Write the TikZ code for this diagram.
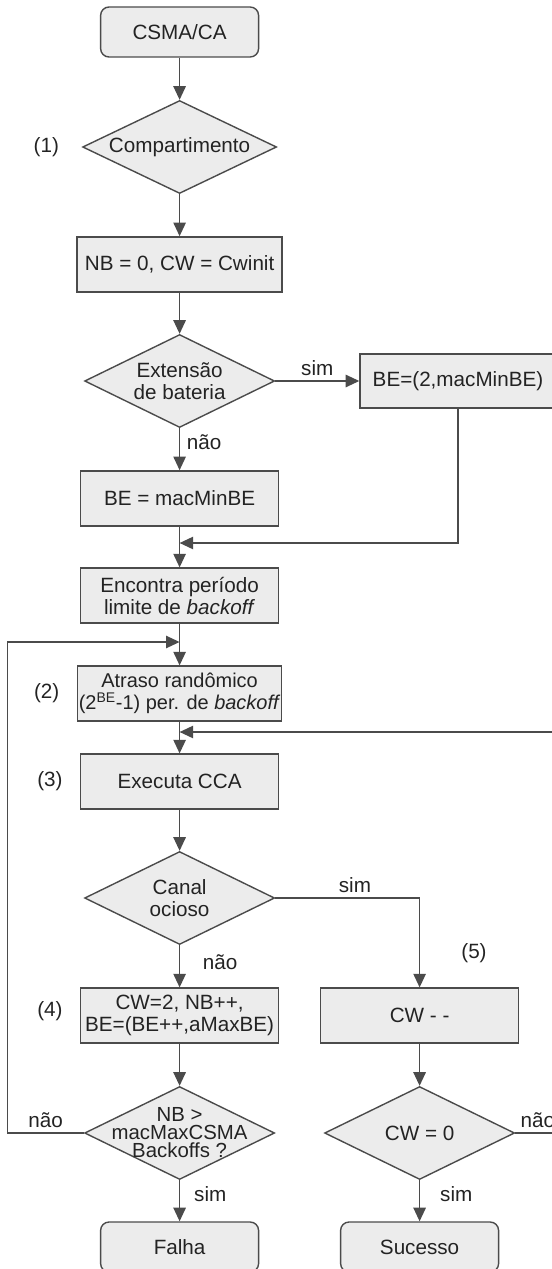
\documentclass[tikz,border=0pt]{standalone}
\usepackage{fontspec}
\setmainfont{Liberation Sans}
\definecolor{boxgray}{RGB}{236,236,236}
\definecolor{edgegray}{RGB}{75,75,75}
\definecolor{inkgray}{RGB}{35,35,35}
\usetikzlibrary{arrows.meta, positioning, calc, shapes.geometric}
\newcommand{\fs}{\fontsize{14.7}{15.8}\selectfont}
\newcommand{\fssmall}{\fontsize{14.2}{15.5}\selectfont}
\newcommand{\fstight}{\fontsize{14.5}{12.8}\selectfont}

\begin{document}
\begin{tikzpicture}[
  box/.style={draw=edgegray, fill=boxgray, line width=1pt, minimum width=4.95cm, minimum height=1.375cm, align=center, font=\fs, text=inkgray, inner sep=1pt},
  term/.style={box, rounded corners=6pt, minimum width=3.95cm, minimum height=1.25cm},
  dec/.style={diamond, draw=edgegray, fill=boxgray, line width=1pt, minimum width=4.75cm, minimum height=2.325cm, inner sep=0pt},
  dtxt/.style={font=\fs, text=inkgray, align=center, inner sep=0pt},
  arr/.style={-{Triangle[length=0.34cm, width=0.31cm]}, line width=1pt, edgegray},
  lbl/.style={font=\fs, text=inkgray}
]
  \useasboundingbox (0,0) rectangle (13.8,-31.725);

  % ── Main column ──
  \node[term] (start) at (4.49,-0.8) {CSMA/CA};
  \node[dec, minimum width=4.85cm, label={[dtxt]center:Compartimento}] (comp) at (4.49,-3.675) {};
  \node[box, minimum width=5.125cm] (init) at (4.49,-6.61) {NB = 0, CW = Cwinit};
  \node[dec, label={[dtxt]center:{Extensão\\de bateria}}] (bat) at (4.49,-9.525) {};
  \node[box] (bemin) at (4.49,-12.46) {BE = macMinBE};
  \node[box] (limit) at (4.49,-14.89) {Encontra período\\limite de \textit{backoff}};
  \node[box, font=\fssmall] (delay) at (4.49,-17.34) {Atraso randômico\\(2\textsuperscript{BE}-1) per. de \textit{backoff}};
  \node[box] (cca) at (4.49,-19.54) {Executa CCA};
  \node[dec, label={[dtxt]center:{Canal\\ocioso}}] (idle) at (4.49,-22.45) {};
  \node[box] (busy) at (4.49,-25.39) {CW=2, NB++,\\BE=(BE++,aMaxBE)};
  \node[dec, label={[dtxt, font=\fstight]center:{NB >\\macMaxCSMA\\Backoffs ?}}] (maxb) at (4.49,-28.325) {};
  \node[term] (fail) at (4.49,-31.175) {Falha};

  % ── Right column ──
  \node[box, minimum width=4.9cm, minimum height=1.35cm] (be2) at (11.45,-9.525) {BE=(2,macMinBE)};
  \node[box] (cwdec) at (10.49,-25.39) {CW - -};
  \node[dec, label={[dtxt]center:{CW = 0}}] (cwz) at (10.49,-28.325) {};
  \node[term] (ok) at (10.49,-31.175) {Sucesso};

  % ── Step numbers ──
  \node[lbl, left=0.45cm of comp] (s1) {(1)};
  \node[lbl, left=0.31cm of delay] (s2) {(2)};
  \node[lbl, left=0.31cm of cca] (s3) {(3)};
  \node[lbl, left=0.31cm of busy, yshift=0.12cm] (s4) {(4)};
  \node[lbl] (s5) at (11.85,-23.83) {(5)};

  % ── Join points ──
  \coordinate (join) at (4.49,-13.575);
  \coordinate (loopin) at (4.49,-16.05);
  \coordinate (retin) at (4.49,-18.3);

  % ── Connectors ──
  \draw[arr] (start) -- (comp);
  \draw[arr] (comp) -- (init);
  \draw[arr] (init) -- (bat);
  \draw[arr] (bat) -- node[lbl, above] {sim} (be2);
  \draw[arr] (bat) -- node[lbl, right=0.05cm, pos=0.34] {não} (bemin);
  \draw[arr] (bemin) -- (limit);
  \draw[arr] (be2) |- (join);
  \draw[arr] (limit) -- (delay);
  \draw[arr] (delay) -- (cca);
  \draw[arr] (cca) -- (idle);
  \draw[arr] (idle) -| node[lbl, above, pos=0.276] {sim} (cwdec);
  \draw[arr] (idle) -- node[lbl, right=0.45cm, pos=0.4] {não} (busy);
  \draw[arr] (busy) -- (maxb);
  \draw[arr] (maxb) -- node[lbl, right=0.23cm, pos=0.33] {sim} (fail);
  \draw[arr] (maxb.west) -- node[lbl, above] {não} ++(-1.915,0) |- (loopin);
  \draw[arr] (cwdec) -- (cwz);
  \draw[arr] (cwz) -- node[lbl, right=0.38cm, pos=0.33] {sim} (ok);
  \draw[arr] (cwz.east) -- node[lbl, anchor=south west, pos=0] {não} ++(1.4,0) |- (retin);
\end{tikzpicture}
\end{document}
